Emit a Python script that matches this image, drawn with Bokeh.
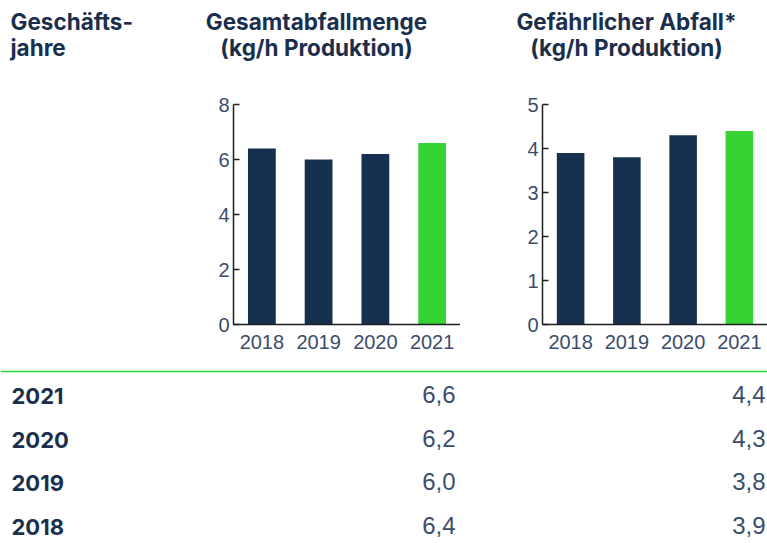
from bokeh.plotting import figure
from bokeh.models import ColumnDataSource, FactorRange, Range1d, FixedTicker, Spacer, Span
from bokeh.layouts import column, row
from bokeh.core.properties import value
from bokeh.embed import file_html
from bokeh.resources import INLINE

# ---------------- data ----------------
years = ["2018", "2019", "2020", "2021"]
total_waste = [6.4, 6.0, 6.2, 6.6]          # Gesamtabfallmenge (kg/h Produktion)
hazardous_waste = [3.9, 3.8, 4.3, 4.4]      # Gefährlicher Abfall* (kg/h Produktion)
col_title_1 = ["Geschäfts-", "jahre"]
col_title_2 = ["Gesamtabfallmenge", "(kg/h Produktion)"]
col_title_3 = ["Gefährlicher Abfall*", "(kg/h Produktion)"]
total_ticks = [0, 2, 4, 6, 8]
hazardous_ticks = [0, 1, 2, 3, 4, 5]

# ---------------- style ----------------
NAVY = "#16304f"
GREEN = "#36d334"
TITLE_C = "#1b2f4d"
LIGHT_C = "#3b4d6a"
BOLD_F = "Inter"
LIGHT_F = "Liberation Sans"
PAGE_W = 767


def blank(height, y_top, y_bottom):
    p = figure(width=PAGE_W, height=height,
               x_range=Range1d(0, PAGE_W), y_range=Range1d(y_bottom, y_top),
               output_backend="svg", toolbar_location=None,
               x_axis_location=None, y_axis_location=None,
               min_border=0, min_border_left=0, min_border_right=0,
               min_border_top=0, min_border_bottom=0)
    p.grid.visible = False
    p.outline_line_color = None
    p.background_fill_color = "white"
    p.border_fill_color = "white"
    return p


# ---------------- header ----------------
hdr = blank(80, 0, 80)
titles = [col_title_1, col_title_2, col_title_3]
anchors = [10, 316, 626]
aligns = ["left", "center", "center"]
hx, hy, ht, ha = [], [], [], []
for t, ax, al in zip(titles, anchors, aligns):
    for k, line in enumerate(t):
        hx.append(ax)
        hy.append(20.5 + 26 * k)
        ht.append(line)
        ha.append(al)
hsrc = ColumnDataSource(dict(x=hx, y=hy, text=ht, align=ha))
hdr.text(x="x", y="y", text="text", source=hsrc, text_align="align",
         text_baseline="alphabetic", text_font=value(BOLD_F), text_font_style="bold",
         text_font_size="22.5px", text_color=TITLE_C)


# ---------------- charts ----------------
def chart(vals, ticks, border_left, frame_w):
    p = figure(frame_width=frame_w, frame_height=220,
               x_range=FactorRange(*years), y_range=Range1d(0, ticks[-1]),
               output_backend="svg", toolbar_location=None,
               min_border_left=border_left, min_border_right=0,
               min_border_top=24, min_border_bottom=30)
    colors = [GREEN if y == years[-1] else NAVY for y in years]
    src = ColumnDataSource(dict(x=years, top=vals, color=colors))
    p.vbar(x="x", top="top", bottom=0, width=0.49, fill_color="color",
           line_color=None, source=src)
    p.x_range.range_padding = 0
    p.grid.visible = False
    p.outline_line_color = None
    p.yaxis.ticker = FixedTicker(ticks=ticks)
    p.yaxis.minor_tick_line_color = None
    p.yaxis.major_tick_in = 6
    p.yaxis.major_tick_out = 0
    p.yaxis.major_tick_line_color = "#1e1e1e"
    p.yaxis.major_tick_line_width = 1.5
    p.axis.axis_line_color = "#1e1e1e"
    p.axis.axis_line_width = 1.5
    p.xaxis.major_tick_line_color = None
    p.xaxis.minor_tick_line_color = None
    p.axis.major_label_text_font = LIGHT_F
    p.axis.major_label_text_font_size = "20px"
    p.axis.major_label_text_color = LIGHT_C
    p.yaxis.major_label_standoff = 4
    p.xaxis.major_label_standoff = 4
    return p


c1 = chart(total_waste, total_ticks, 40, 227)
c2 = chart(hazardous_waste, hazardous_ticks, 82, 225)
chart_row = row(Spacer(width=193, height=274), c1, c2)

# ---------------- table ----------------
tbl = blank(189, 354, 543)
tbl.add_layout(Span(location=371, dimension="width", line_color=GREEN, line_width=1.6))
rows_years = list(reversed(years))
rows_total = [f"{v:.1f}".replace(".", ",") for v in reversed(total_waste)]
rows_haz = [f"{v:.1f}".replace(".", ",") for v in reversed(hazardous_waste)]
row_y = [395.5 + 43.5 * i for i in range(len(rows_years))]
ysrc = ColumnDataSource(dict(x=[11] * len(row_y), y=row_y, text=rows_years))
tbl.text(x="x", y="y", text="text", source=ysrc, text_align="left",
         text_baseline="alphabetic", text_font=value(BOLD_F), text_font_style="bold",
         text_font_size="22px", text_color=TITLE_C)
val_y = [y - 1.5 for y in row_y]
vsrc1 = ColumnDataSource(dict(x=[455] * len(row_y), y=val_y, text=rows_total))
vsrc2 = ColumnDataSource(dict(x=[765] * len(row_y), y=val_y, text=rows_haz))
for s in (vsrc1, vsrc2):
    tbl.text(x="x", y="y", text="text", source=s, text_align="right",
             text_baseline="alphabetic", text_font=value(LIGHT_F),
             text_font_size="24px", text_color=LIGHT_C)

layout = column(hdr, chart_row, tbl)
open("out.html", "w").write(file_html(layout, INLINE))
